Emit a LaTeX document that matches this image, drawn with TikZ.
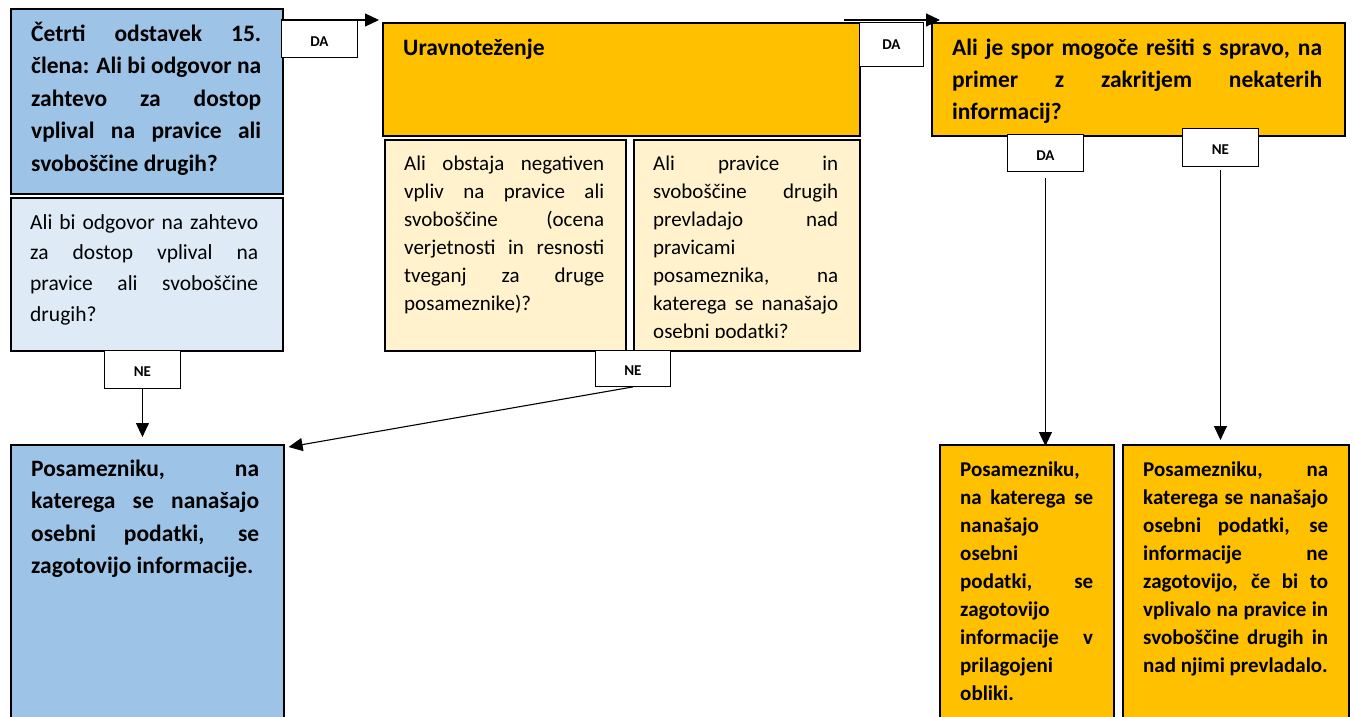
\documentclass[tikz,border=0pt]{standalone}
\usepackage{fontspec}
\setmainfont{Carlito}
\usetikzlibrary{arrows.meta}

\hyphenpenalty=10000 \exhyphenpenalty=10000
\tolerance=10000 \hbadness=10000

\definecolor{qblue}{HTML}{9DC3E6}
\definecolor{qpale}{HTML}{DEEBF7}
\definecolor{qorange}{HTML}{FFC000}
\definecolor{qcream}{HTML}{FFF2CC}

\tikzset{
  box/.style={draw=black, line width=1.6pt, anchor=north west, inner sep=0pt},
  tag/.style={draw=black, fill=white, line width=0.9pt, anchor=north west, inner sep=0pt,
    font=\fontsize{15}{17}\selectfont\bfseries, text height=15pt, text depth=0pt},
  bigtxt/.style={inner sep=0pt, align=justify, anchor=base west,
    font=\fontsize{23.5}{32.5}\selectfont\bfseries},
  midtxt/.style={inner sep=0pt, align=justify, anchor=base west,
    font=\fontsize{21}{28}\selectfont\bfseries},
  regtxt/.style={inner sep=0pt, align=justify, anchor=base west,
    font=\fontsize{21}{28}\selectfont},
  arr/.style={-{Triangle[length=14pt,width=13pt]}, line width=1.1pt}
}

\begin{document}
\begin{tikzpicture}[x=1pt,y=-1pt]
\clip (0,0) rectangle (1355,716);
\fill[white] (0,0) rectangle (1355,716);

% left column
\node[box, fill=qblue, minimum width=272, minimum height=185] (A) at (10,8) {};
\node[box, fill=qpale, minimum width=272, minimum height=153] (B) at (10,197) {};
\node[box, fill=qblue, minimum width=273, minimum height=300] (E) at (10,444) {};

% balancing
\node[box, fill=qorange, minimum width=477, minimum height=113] (C) at (382,22) {};
\node[box, fill=qcream, minimum width=241, minimum height=211] (C1) at (384,139) {};
\node[box, fill=qcream, minimum width=226, minimum height=211] (C2) at (633,139) {};

% right column
\node[box, fill=qorange, minimum width=413, minimum height=113] (D) at (931,22) {};
\node[box, fill=qorange, minimum width=174, minimum height=300] (F) at (939,444) {};
\node[box, fill=qorange, minimum width=226, minimum height=300] (G) at (1122,444) {};

% texts
\node[bigtxt, text width=230] (Atxt) at ([shift={(21,33)}]A.north west)
  {Četrti odstavek 15.\linebreak
   člena: Ali bi odgovor na\linebreak
   zahtevo za dostop\linebreak
   vplival na pravice ali\linebreak
   svoboščine drugih?};
\node[regtxt, text width=228, font=\fontsize{21.5}{30.7}\selectfont] (Btxt) at ([shift={(20,32)}]B.north west)
  {Ali bi odgovor na zahtevo\linebreak
   za dostop vplival na\linebreak
   pravice ali svoboščine\linebreak
   drugih?};
\node[bigtxt, anchor=base west] (Ctxt) at ([shift={(21,33)}]C.north west) {Uravnoteženje};
\node[regtxt, text width=200] (C1txt) at ([shift={(20,31)}]C1.north west)
  {Ali obstaja negativen\linebreak
   vpliv na pravice ali\linebreak
   svoboščine (ocena\linebreak
   verjetnosti in resnosti\linebreak
   tveganj za druge\linebreak
   posameznike)?};
\begin{scope}
\clip (633,139) rectangle (859,337);
\node[regtxt, text width=185] (C2txt) at ([shift={(20,31)}]C2.north west)
  {Ali pravice in\linebreak
   svoboščine drugih\linebreak
   prevladajo nad\linebreak
   pravicami\newline
   posameznika, na\linebreak
   katerega se nanašajo\linebreak
   osebni podatki?};
\end{scope}
\node[bigtxt, text width=370, font=\fontsize{23.5}{32}\selectfont\bfseries] (Dtxt) at ([shift={(21,33)}]D.north west)
  {Ali je spor mogoče rešiti s spravo, na\linebreak
   primer z zakritjem nekaterih\linebreak
   informacij?};
\node[bigtxt, text width=228] (Etxt) at ([shift={(21,32)}]E.north west)
  {Posamezniku, na\linebreak
   katerega se nanašajo\linebreak
   osebni podatki, se\linebreak
   zagotovijo informacije.};
\node[midtxt, text width=133] (Ftxt) at ([shift={(21,32)}]F.north west)
  {Posamezniku,\newline
   na katerega se\linebreak
   nanašajo\newline
   osebni\newline
   podatki, se\linebreak
   zagotovijo\newline
   informacije v\linebreak
   prilagojeni\newline
   obliki.};
\node[midtxt, text width=185] (Gtxt) at ([shift={(21,32)}]G.north west)
  {Posamezniku, na\linebreak
   katerega se nanašajo\linebreak
   osebni podatki, se\linebreak
   informacije ne\linebreak
   zagotovijo, če bi to\linebreak
   vplivalo na pravice in\linebreak
   svoboščine drugih in\linebreak
   nad njimi prevladalo.};

% yes / no tags
\node[tag, minimum width=76, minimum height=37] (da1) at (281,20) {DA};
\node[tag, minimum width=76, minimum height=38] (ne1) at (104,350) {NE};
\node[tag, minimum width=75, minimum height=36] (ne2) at (595,350) {NE};
\node[tag, minimum width=64, minimum height=44, text height=10pt] (da2) at (859,22) {DA};
\node[tag, minimum width=76, minimum height=37] (da3) at (1007,134) {DA};
\node[tag, minimum width=76, minimum height=38] (ne3) at (1182,128) {NE};

% arrows
\draw[arr] (da1.north west) -- ([xshift=-3pt,yshift=2pt]C.north west);
\draw[arr] ([xshift=-17pt,yshift=2pt]C.north east) -- ([xshift=9pt,yshift=2pt]D.north west);
\draw[arr] (ne1.south) -- ([yshift=7pt]ne1.south |- E.north);
\draw[arr] (ne2.south) -- ([xshift=4pt,yshift=-3pt]E.north east);
\draw[arr] ([yshift=-6pt]da3.south) -- ([yshift=-2pt]da3.south |- F.north);
\draw[arr] ([yshift=-3pt]ne3.south) -- ([yshift=4pt]ne3.south |- G.north);
\end{tikzpicture}
\end{document}
